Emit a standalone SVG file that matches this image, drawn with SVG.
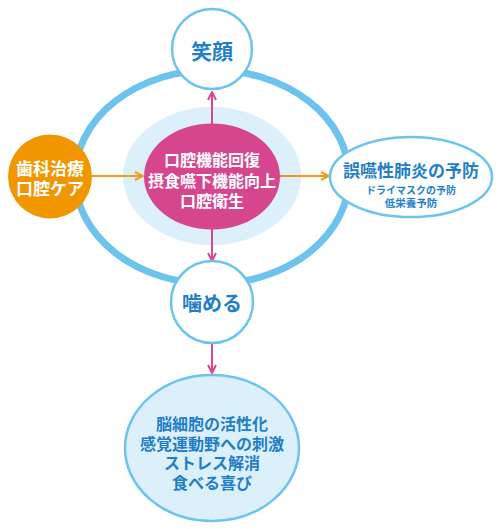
<svg xmlns="http://www.w3.org/2000/svg" width="500" height="529" viewBox="0 0 500 529">
<defs>
<style>
.jp{font-family:"Noto Sans CJK JP","Noto Sans",sans-serif;font-weight:bold;text-anchor:middle;dominant-baseline:central}
.blue{fill:#1e7fc8}
.white{fill:#ffffff}
.node{stroke:#6cc4ee;stroke-width:2.5}
.pink{stroke:#e0438f;stroke-width:2;fill:none}
.orange{stroke:#f29a1a;stroke-width:2;fill:none}
</style>
<marker id="ap" viewBox="0 0 10 10" refX="9" refY="5" markerWidth="10" markerHeight="10" markerUnits="userSpaceOnUse" orient="auto">
<path d="M1,1 L9,5 L1,9" fill="none" stroke="#e0438f" stroke-width="2"/>
</marker>
<marker id="ao" viewBox="0 0 10 10" refX="9" refY="5" markerWidth="10" markerHeight="10" markerUnits="userSpaceOnUse" orient="auto">
<path d="M1,1 L9,5 L1,9" fill="none" stroke="#f29a1a" stroke-width="2"/>
</marker>
</defs>
<rect width="500" height="529" fill="#ffffff"/>
<g id="ring">
<ellipse cx="212" cy="177" rx="137" ry="107" fill="none" stroke="#6cc4ee" stroke-width="7"/>
</g>
<g id="halo">
<ellipse cx="212" cy="176" rx="89" ry="69" fill="#dcf0fb"/>
</g>
<g id="connectors">
<line class="pink" x1="212" y1="124" x2="212" y2="92" marker-end="url(#ap)"/>
<line class="pink" x1="212" y1="229" x2="212" y2="261" marker-end="url(#ap)"/>
<line class="pink" x1="212" y1="344" x2="212" y2="373" marker-end="url(#ap)"/>
<line class="orange" x1="92" y1="176" x2="143" y2="176" marker-end="url(#ao)"/>
<line class="orange" x1="279" y1="176" x2="329" y2="176" marker-end="url(#ao)"/>
</g>
<g id="node-egao">
<circle class="node" cx="212" cy="49" r="40" fill="#ffffff"/>
<text class="jp blue" x="212" y="50" font-size="21">笑顔</text>
</g>
<g id="node-kameru">
<circle class="node" cx="212" cy="302" r="41" fill="#ffffff"/>
<text class="jp blue" x="212" y="302" font-size="20">噛める</text>
</g>
<g id="node-center">
<ellipse cx="212" cy="176.5" rx="68" ry="53" fill="#d6468f"/>
<text class="jp white" x="212" y="159" font-size="16">口腔機能回復</text>
<text class="jp white" x="212" y="179.5" font-size="16">摂食嚥下機能向上</text>
<text class="jp white" x="212" y="200" font-size="16">口腔衛生</text>
</g>
<g id="node-dental">
<circle cx="50" cy="176.5" r="42" fill="#f29600"/>
<text class="jp white" x="50" y="167" font-size="17">歯科治療</text>
<text class="jp white" x="50" y="187" font-size="17">口腔ケア</text>
</g>
<g id="node-pneumonia">
<ellipse class="node" cx="411" cy="177" rx="81" ry="40" fill="#ffffff"/>
<text class="jp blue" x="411" y="169" font-size="17">誤嚥性肺炎の予防</text>
<text class="jp blue" x="411" y="189" font-size="10">ドライマスクの予防</text>
<text class="jp blue" x="411" y="202" font-size="10.5">低栄養予防</text>
</g>
<g id="node-effects">
<ellipse class="node" cx="212" cy="448" rx="87" ry="73" fill="#dcf0fb"/>
<text class="jp blue" x="212" y="423" font-size="16">脳細胞の活性化</text>
<text class="jp blue" x="212" y="442.5" font-size="16">感覚運動野への刺激</text>
<text class="jp blue" x="212" y="462" font-size="16">ストレス解消</text>
<text class="jp blue" x="212" y="482" font-size="16">食べる喜び</text>
</g>
</svg>
